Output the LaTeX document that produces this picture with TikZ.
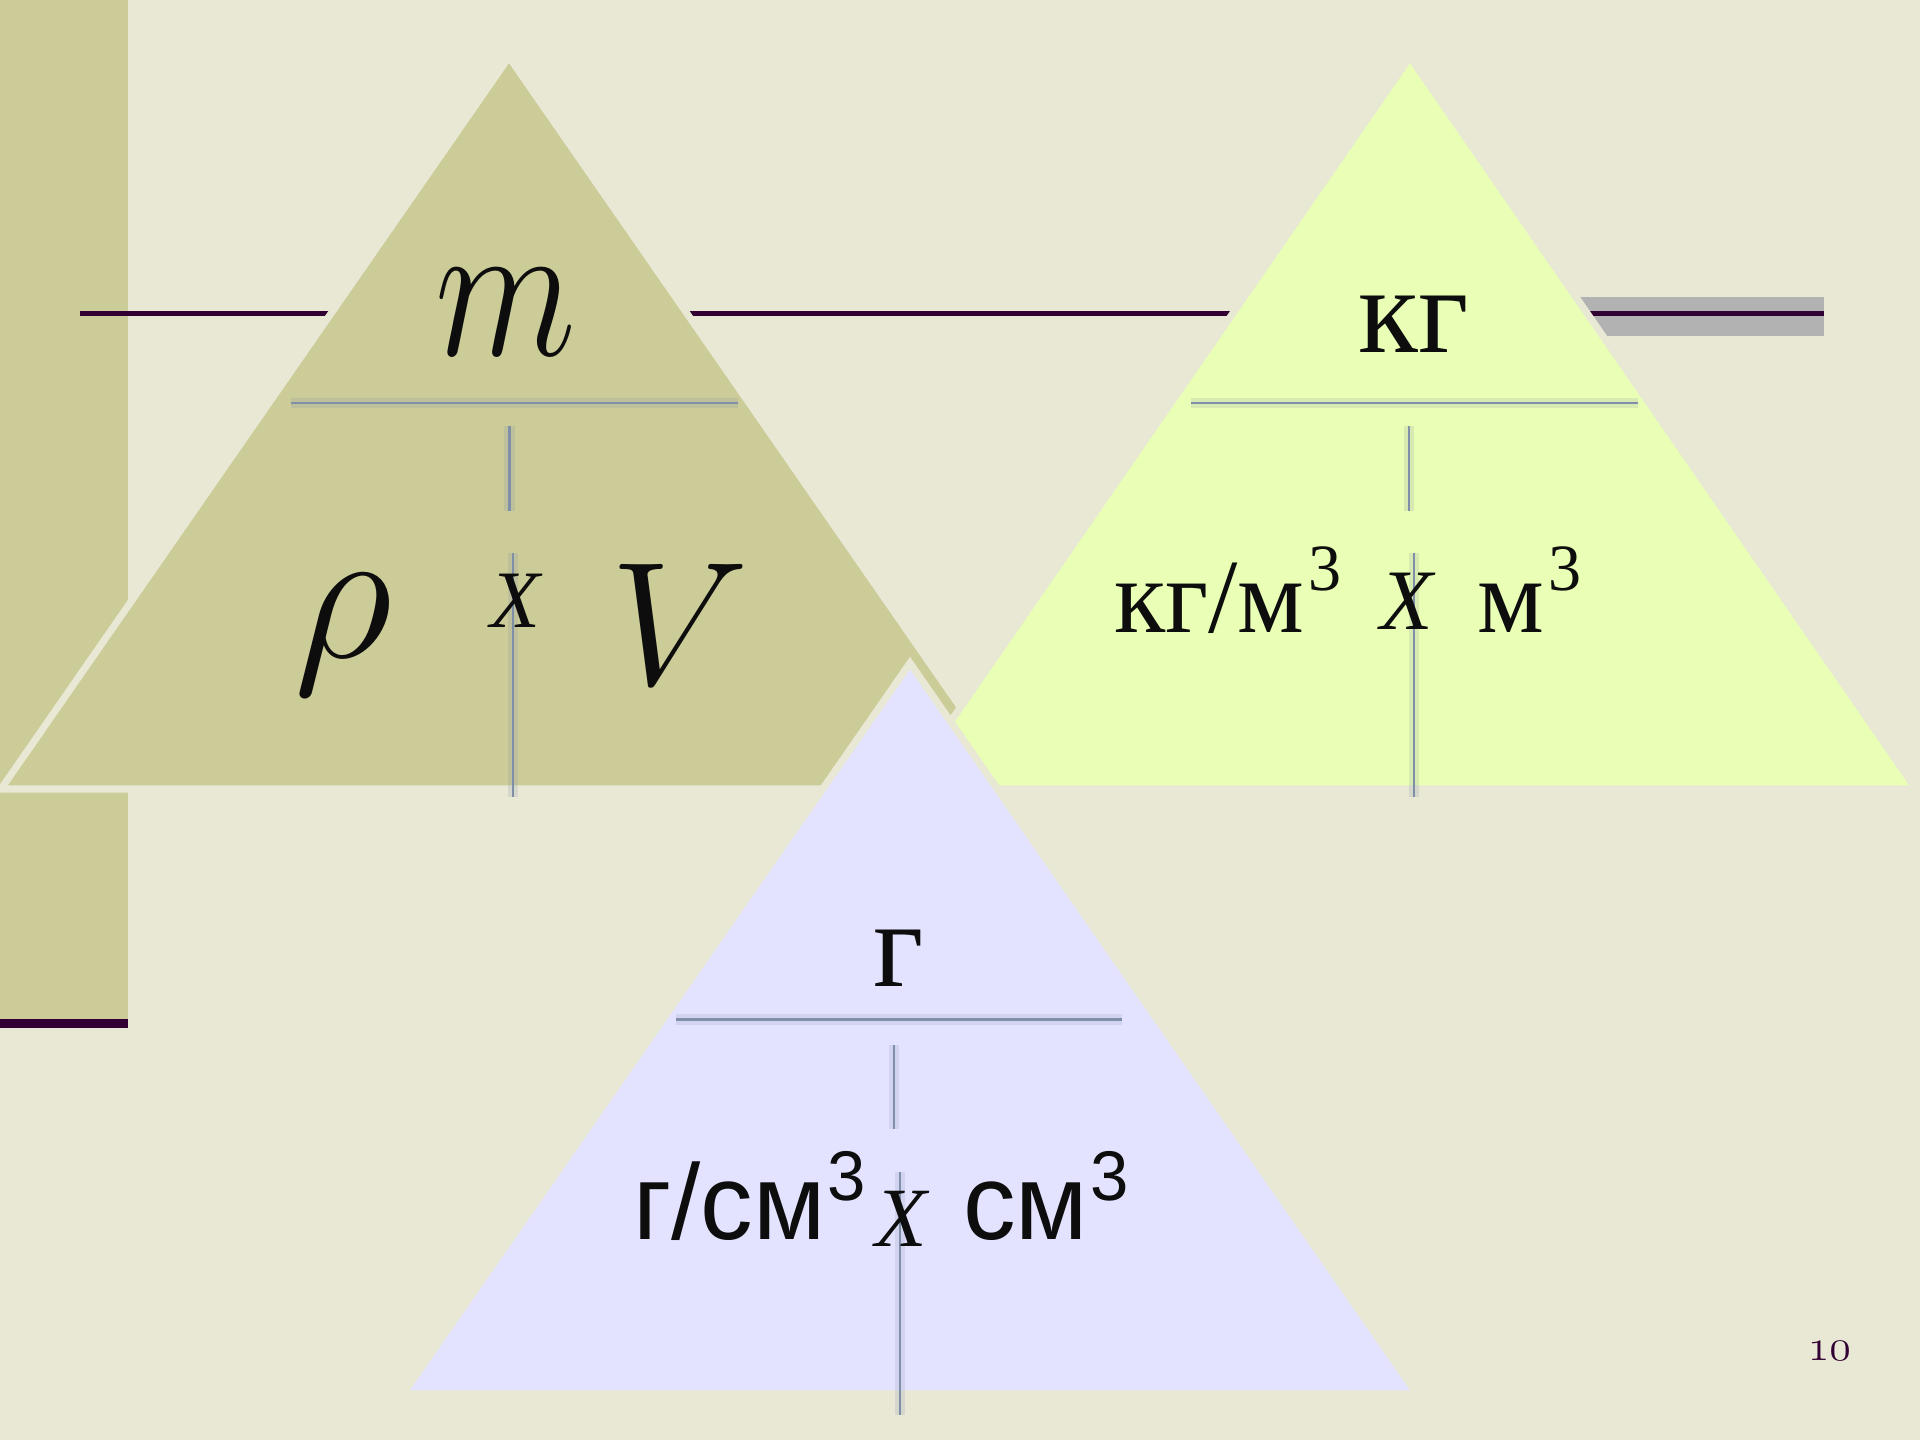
\RequirePackage{fix-cm}
\documentclass[tikz,border=0pt]{standalone}
\usepackage{fontspec}
\setmainfont{Liberation Serif}
\newfontfamily\arialf[FakeStretch=0.98]{Liberation Sans}
\usepackage{graphicx}
\definecolor{bgc}{RGB}{232,232,212}
\definecolor{olive}{RGB}{204,204,153}
\definecolor{yel}{RGB}{233,255,181}
\definecolor{lav}{RGB}{227,227,255}
\definecolor{darkp}{RGB}{51,0,51}
\definecolor{grayr}{RGB}{178,178,178}
\definecolor{divc}{RGB}{128,143,168}
\definecolor{ink}{RGB}{13,13,13}
\tikzset{
  tri/.style={draw=bgc, line width=2pt, line join=miter},
  divl/.style={draw=divc, line width=0.8pt},
  halo/.style={draw=divc, line width=3pt, opacity=0.18},
  lbl/.style={inner sep=0pt, outer sep=0pt, text=ink},
  sz/.style={font=\fontsize{#1}{#1}\selectfont},
}
\begin{document}
\begin{tikzpicture}[x=0.01cm,y=-0.01cm]
\path[use as bounding box, fill=bgc] (0,0) rectangle (1920,1440);
% left band
\fill[olive] (0,0) rectangle (128,1019);
\fill[darkp] (0,1019) rectangle (128,1028);
% title line with grey bar
\fill[grayr] (1540,297) rectangle (1824,336);
\coordinate (tl1) at (80,313.5);
\coordinate (tl2) at (1824,313.5);
\draw[darkp, line width=1.15pt] (tl1) -- (tl2);

% ---------- triangle 1 ----------
\coordinate (a1) at (509,57);
\coordinate (b1) at (1,789);
\coordinate (c1) at (1017,789);
\filldraw[tri, fill=olive] (a1) -- (b1) -- (c1) -- cycle;
\coordinate (d1a) at (291,403); \coordinate (d1b) at (738,403);
\draw[halo] (d1a) -- (d1b); \draw[divl] (d1a) -- (d1b);
\coordinate (s1a) at (509.5,426); \coordinate (s1b) at (509.5,511);
\draw[halo] (s1a) -- (s1b); \draw[divl] (s1a) -- (s1b);
\coordinate (l1a) at (513,553); \coordinate (l1b) at (513,797);
\draw[halo] (l1a) -- (l1b); \draw[divl] (l1a) -- (l1b);
\node[lbl, sz=57, anchor=base] (m) at (506,356) {\scalebox{0.82}[1]{$m$}};
\node[lbl, sz=55, anchor=base] (rho) at (343,658) {$\rho$};
\node[lbl, sz=23.2, anchor=base] (x1) at (515,628) {\itshape X};
\node[lbl, sz=50, anchor=base] (v) at (680,685) {$V$};

% ---------- triangle 2 ----------
\coordinate (a2) at (1410,57);
\coordinate (b2) at (904,789);
\coordinate (c2) at (1916,789);
\filldraw[tri, fill=yel] (a2) -- (b2) -- (c2) -- cycle;
\coordinate (d2a) at (1191,403); \coordinate (d2b) at (1638,403);
\draw[halo] (d2a) -- (d2b); \draw[divl] (d2a) -- (d2b);
\coordinate (s2a) at (1409,426); \coordinate (s2b) at (1409,511);
\draw[halo] (s2a) -- (s2b); \draw[divl] (s2a) -- (s2b);
\coordinate (l2a) at (1414,553); \coordinate (l2b) at (1414,797);
\draw[halo] (l2a) -- (l2b); \draw[divl] (l2a) -- (l2b);
\node[lbl, sz=35, anchor=base] (kg) at (1414,353) {кг};
\node[lbl, sz=30, anchor=base west] (kgm) at (1114,633) {кг/м};
\node[lbl, sz=18.8, anchor=base west] (kgm3) at (1308,591) {3};
\node[lbl, sz=24.5, anchor=base] (x2) at (1407,630) {\itshape X};
\node[lbl, sz=30, anchor=base west] (m2) at (1477,633) {м};
\node[lbl, sz=18.8, anchor=base west] (m23) at (1548,591) {3};

% ---------- triangle 3 ----------
\coordinate (a3) at (910,663);
\coordinate (b3) at (403,1394);
\coordinate (c3) at (1417,1394);
\filldraw[tri, fill=lav] (a3) -- (b3) -- (c3) -- cycle;
\coordinate (d3a) at (676,1019.6); \coordinate (d3b) at (1122,1019.6);
\draw[halo] (d3a) -- (d3b); \draw[divl] (d3a) -- (d3b);
\coordinate (s3a) at (894,1045); \coordinate (s3b) at (894,1129);
\draw[halo] (s3a) -- (s3b); \draw[divl] (s3a) -- (s3b);
\coordinate (l3a) at (900,1172); \coordinate (l3b) at (900,1415);
\draw[halo] (l3a) -- (l3b); \draw[divl] (l3a) -- (l3b);
\node[lbl, sz=35, anchor=base] (g) at (899,987) {г};
\node[lbl, sz=30.5, anchor=base west] (gsm) at (633,1239.5) {\arialf г/см};
\node[lbl, sz=20, anchor=base west] (gsm3) at (827,1201) {\arialf 3};
\node[lbl, sz=24, anchor=base] (x3) at (901,1247) {\itshape X};
\node[lbl, sz=30.5, anchor=base west] (sm) at (963,1239.5) {\arialf см};
\node[lbl, sz=20, anchor=base west] (sm3) at (1090,1201) {\arialf 3};

% page number
\node[lbl, sz=12.5, anchor=base, text=darkp] (pn) at (1829.5,1361) {$\mathnormal{10}$};
\end{tikzpicture}
\end{document}
